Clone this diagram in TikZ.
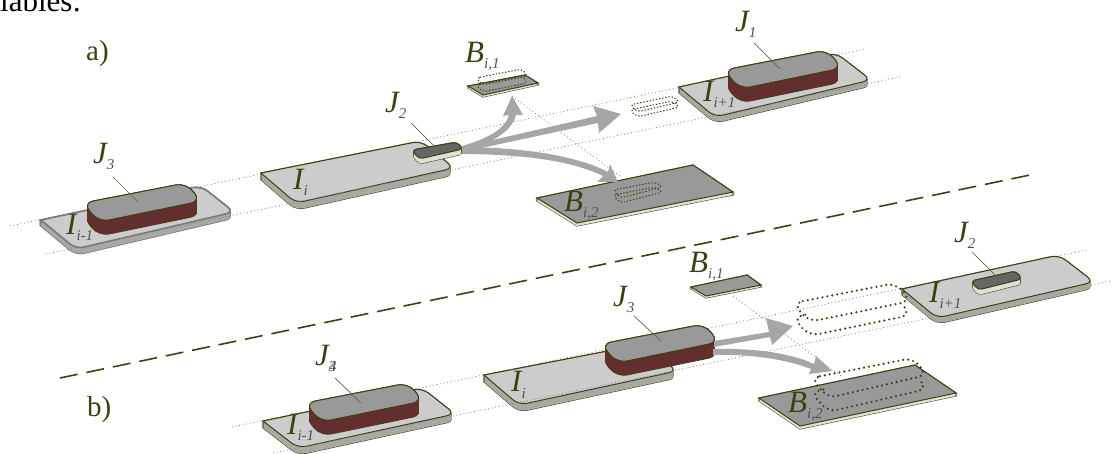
\documentclass[tikz,border=0pt]{standalone}
\usepackage{fontspec}
\usetikzlibrary{calc}
\setmainfont{Liberation Serif}
\definecolor{ink}{HTML}{3F3F12}
\definecolor{plt}{HTML}{CCCCCC}
\definecolor{pls}{HTML}{A9A9A4}
\definecolor{blt}{HTML}{999999}
\definecolor{bls}{HTML}{622E2E}
\definecolor{smt}{HTML}{666666}
\definecolor{lgt}{HTML}{E0E0D6}
\definecolor{arr}{HTML}{A6A6A6}
\definecolor{subc}{HTML}{505050}
\definecolor{gryl}{HTML}{7A7A7A}
\newcommand{\lbl}[2]{{\fontsize{31}{31}\selectfont\itshape #1}\raisebox{-6pt}{\fontsize{15}{15}\selectfont\itshape\color{subc}#2}}
% block: A B C D thickness radius top side line
\newcommand{\slab}[9]{%
  \foreach \k in {0,...,#5}{\draw[color=#9,line width=1pt,rounded corners=#6pt,shift={(0,\k)}] (#1)--(#2)--(#3)--(#4)--cycle;}
  \foreach \k in {0,...,#5}{\fill[color=#8,rounded corners=#6pt,shift={(0,\k)}] (#1)--(#2)--(#3)--(#4)--cycle;}
  \draw[color=#9,line width=1pt,fill=#7,rounded corners=#6pt] (#1)--(#2)--(#3)--(#4)--cycle;}
% plate: as a block, with its left corner kept sharp
\newcommand{\plateshape}[5]{(#1) [rounded corners=#5pt] -- (#2) -- (#3) -- (#4) -- ($(#4)!0.5!(#1)$) [sharp corners] -- cycle}
\newcommand{\plate}[9]{%
  \foreach \k in {0,...,#5}{\draw[color=#9,line width=#6pt,shift={(0,\k)}] \plateshape{#1}{#2}{#3}{#4}{8};}
  \foreach \k in {0,...,#5}{\fill[color=#8,shift={(0,\k)}] \plateshape{#1}{#2}{#3}{#4}{8};}
  \draw[color=#9,line width=#6pt,fill=#7] \plateshape{#1}{#2}{#3}{#4}{8};}
\newcommand{\ghost}[7]{%
  \draw[#7,rounded corners=#6pt] (#1)--(#2)--(#3)--(#4)--cycle;
  \draw[#7,rounded corners=#6pt,shift={(0,#5)}] (#1)--(#2)--(#3)--(#4)--cycle;}
% ghost whose lower outline shows its front only
\newcommand{\frontghost}[7]{%
  \draw[#7,rounded corners=#6pt] (#1)--(#2)--(#3)--(#4)--cycle;
  \draw[#7,rounded corners=#6pt,shift={(0,#5)}] ($(#1)!0.12!(#2)$)--(#1)--(#4)--(#3)--($(#3)!0.3!(#2)$);}
\tikzset{
  x=1pt,y=-1pt,
  lab/.style={anchor=base west,inner sep=0pt,text=ink},
  panel/.style={anchor=base west,inner sep=0pt,text=ink,font=\fontsize{29}{29}\selectfont},
  axis/.style={color=gray,line width=0.7pt,dash pattern=on 1pt off 2.6pt},
  leader/.style={color=ink!80,line width=0.7pt},
  thinghost/.style={color=ink,line width=1pt,dash pattern=on 1.4pt off 1.8pt},
  fatghost/.style={color=ink,line width=2.4pt,line cap=round,dash pattern=on 0pt off 5pt},
  arrowbody/.style={fill=arr,draw=none},
  divider/.style={color=ink,line width=1.6pt,dash pattern=on 18pt off 9pt}
}
\begin{document}
\begin{tikzpicture}
\useasboundingbox (0,0) rectangle (1112,454);
\clip (0,0) rectangle (1112,454);
\node[anchor=base west,inner sep=0pt,font=\fontsize{31}{31}\selectfont] (cut) at (0,12) {iables:};
% panel a guides
\draw[axis] (10,226) -- (865,49);
\draw[axis] (512,96) -- (621,177);
% plates a
\plate{41,220}{201,186}{234,212}{76,249}{6}{1.6}{plt}{pls}{gryl}
\plate{261,173}{421,141}{454,168}{296,203}{7}{1}{plt}{pls}{ink}
\plate{679,87}{836,53}{871,80}{715,117}{6}{1}{plt}{pls}{ink}
\draw[axis] (46,254) -- (900,77);
\slab{83,203}{186,183}{201,201}{99,222}{14}{10}{blt}{bls}{ink}
\slab{724,70}{827,50}{842,68}{740,89}{14}{10}{blt}{bls}{ink}
\slab{537,198}{693,165}{733,192}{577,223}{3}{0}{blt}{lgt}{ink}
\slab{468,86}{525,75}{538,83}{483,95}{2}{0}{blt}{lgt}{ink}
\ghost{476,78}{522,69}{528,76}{482,85}{7}{4}{thinghost}
\ghost{630,105}{672,96}{680,102}{637,112}{5}{4}{thinghost}
\ghost{613,190}{655,182}{663,187}{620,198}{5}{4}{thinghost}
% arrows a
\fill[arrowbody] (458,147) .. controls (485,140) and (505,130) .. (509,115) -- (503,116) -- (512,96) -- (523,115) -- (516,115) .. controls (512,132) and (490,145) .. (458,152) -- cycle;
\fill[arrowbody] (458,148) -- (597,116) -- (593,106) -- (621,114) -- (599,133) -- (598,123) -- (458,153) -- cycle;
\fill[arrowbody] (458,147) .. controls (520,147) and (575,155) .. (608,172) -- (610,164) -- (618,182) -- (597,182) -- (603,176) .. controls (570,160) and (520,154) .. (458,154) -- cycle;
\slab{412,150}{457,142}{463,149}{419,159}{5}{4}{smt}{lgt}{ink}
% leaders a
\coordinate (s1) at (113,177); \coordinate (e1) at (138,202);
\coordinate (s2) at (411,123); \coordinate (e2) at (433,145);
\coordinate (s3) at (754,43); \coordinate (e3) at (780,69);
\draw[leader] (s1) -- (e1);
\draw[leader] (s2) -- (e2);
\draw[leader] (s3) -- (e3);
% labels a
\node[panel] (pa) at (86,61) {a)};
\node[lab] (aJ3) at (93,164) {\lbl{J}{3}};
\node[lab] (aJ2) at (385,113) {\lbl{J}{2}};
\node[lab] (aJ1) at (735,32) {\lbl{J}{1}};
\node[lab] (aI0) at (66,235) {\lbl{I}{i-1}};
\node[lab] (aI1) at (293,190) {\lbl{I}{i}};
\node[lab] (aI2) at (703,102) {\lbl{I}{i+1}};
\node[lab] (aB1) at (465,63) {\lbl{B}{i,1}};
\node[lab] (aB2) at (564,212) {\lbl{B}{i,2}};
% divider
\coordinate (d1) at (60,378); \coordinate (d2) at (1030,175);
\draw[divider] (d1) -- (d2);
% panel b guides
\draw[axis] (232,427) -- (1087,250);
\draw[axis] (733,296) -- (841,376);
% plates b
\plate{263,421}{422,388}{455,414}{298,448}{7}{1}{plt}{pls}{ink}
\plate{484,375}{644,344}{677,371}{519,405}{7}{1}{plt}{pls}{ink}
\draw[axis] (273,453) -- (1110,281);
\plate{902,289}{1059,255}{1094,282}{937,318}{6}{1}{plt}{pls}{ink}
\slab{305,403}{408,383}{423,401}{321,422}{14}{10}{blt}{bls}{ink}
\slab{601,344}{704,324}{719,342}{617,363}{14}{10}{blt}{bls}{ink}
\slab{971,281}{1016,271}{1022,279}{978,290}{5}{4}{smt}{lgt}{ink}
\slab{759,398}{915,365}{956,393}{800,426}{3}{0}{blt}{lgt}{ink}
\slab{691,287}{747,275}{761,285}{706,296}{2}{0}{blt}{lgt}{ink}
\frontghost{793,303}{896,283}{911,301}{809,322}{14}{10}{fatghost}
\frontghost{811,378}{913,358}{927,375}{828,398}{14}{9}{fatghost}
% arrows b
\fill[arrowbody] (714,341) -- (769,332) -- (766,318) -- (793,326) -- (772,345) -- (770,337) -- (714,347) -- cycle;
\fill[arrowbody] (713,349) .. controls (755,348) and (790,353) .. (814,364) -- (816,356) -- (832,371) -- (809,374) -- (811,369) .. controls (785,359) and (750,354) .. (713,355) -- cycle;
% leaders b
\coordinate (s4) at (335,378); \coordinate (e4) at (361,403);
\coordinate (s5) at (634,316); \coordinate (e5) at (661,341);
\coordinate (s6) at (972,252); \coordinate (e6) at (997,277);
\draw[leader] (s4) -- (e4);
\draw[leader] (s5) -- (e5);
\draw[leader] (s6) -- (e6);
% labels b
\node[panel] (pb) at (87,417) {b)};
\node[lab] (bJ4) at (315,366) {\lbl{J}{\rlap{3}4}};
\node[lab] (bJ3) at (613,307) {\lbl{J}{3}};
\node[lab] (bJ2) at (954,243) {\lbl{J}{2}};
\node[lab] (bI0) at (287,435) {\lbl{I}{i-1}};
\node[lab] (bI1) at (511,392) {\lbl{I}{i}};
\node[lab] (bI2) at (929,303) {\lbl{I}{i+1}};
\node[lab] (bB1) at (689,273) {\lbl{B}{i,1}};
\node[lab] (bB2) at (788,413) {\lbl{B}{i,2}};
\end{tikzpicture}
\end{document}
